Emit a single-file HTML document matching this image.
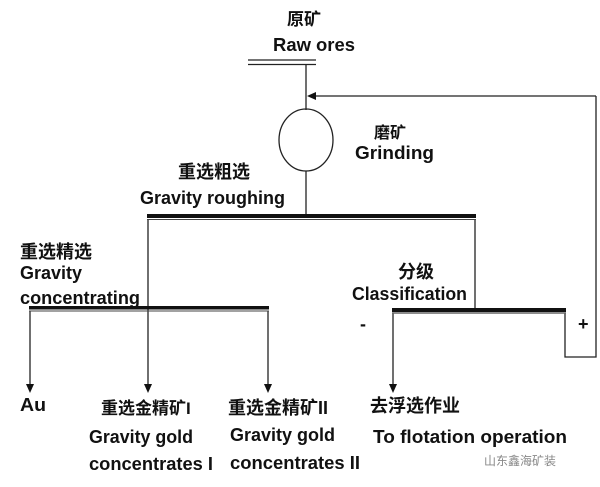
<!DOCTYPE html>
<html><head><meta charset="utf-8"><style>
html,body{margin:0;padding:0;background:#fff;}
svg{display:block}
text{font-family:"Liberation Sans","Noto Sans CJK SC",sans-serif;fill:#111;font-size:18px;font-weight:bold}
.c{font-size:17px;font-weight:bold}
</style></head><body>
<svg width="600" height="487" viewBox="0 0 600 487" xmlns="http://www.w3.org/2000/svg">
<rect width="600" height="487" fill="#fff"/>
<g stroke="#222" stroke-width="1.3" fill="none">
<line x1="248" y1="60" x2="316" y2="60"/>
<line x1="248" y1="64.5" x2="316" y2="64.5"/>
<line x1="306" y1="64" x2="306" y2="110"/>
<polyline points="596,96 596,357 565,357 565,313"/>
<line x1="596" y1="96" x2="314" y2="96"/>
<ellipse cx="306" cy="140" rx="27" ry="31"/>
<line x1="306" y1="171" x2="306" y2="215"/>
<line x1="148" y1="220" x2="148" y2="386"/>
<line x1="475" y1="220" x2="475" y2="309"/>
<line x1="30" y1="311" x2="30" y2="386"/>
<line x1="268" y1="311" x2="268" y2="386"/>
<line x1="393" y1="313" x2="393" y2="386"/>
</g>
<rect x="147" y="214" width="329" height="4" fill="#111"/>
<line x1="147" y1="219.5" x2="476" y2="219.5" stroke="#444" stroke-width="1"/>
<rect x="29" y="306" width="240" height="3.5" fill="#111"/>
<line x1="29" y1="311" x2="269" y2="311" stroke="#444" stroke-width="1"/>
<rect x="392" y="308" width="174" height="4" fill="#111"/>
<line x1="392" y1="313" x2="566" y2="313" stroke="#666" stroke-width="1.5"/>
<g fill="#111">
<polygon points="307,96 316,92 316,100"/>
<polygon points="26,384 34,384 30,393"/>
<polygon points="144,384 152,384 148,393"/>
<polygon points="264,384 272,384 268,393"/>
<polygon points="389,384 397,384 393,393"/>
</g>
<g lengthAdjust="spacingAndGlyphs">
<text class="c" x="287" y="25">原矿</text>
<text x="273" y="51" textLength="82" lengthAdjust="spacingAndGlyphs">Raw ores</text>
<text class="c" x="374" y="138" style="font-size:16px">磨矿</text>
<text x="355" y="159" textLength="79" lengthAdjust="spacingAndGlyphs">Grinding</text>
<text class="c" x="178" y="178" style="font-size:18px">重选粗选</text>
<text x="140" y="204" textLength="145" lengthAdjust="spacingAndGlyphs">Gravity roughing</text>
<text class="c" x="20" y="258" style="font-size:18px">重选精选</text>
<text x="20" y="279" textLength="62" lengthAdjust="spacingAndGlyphs">Gravity</text>
<text x="20" y="304" textLength="120" lengthAdjust="spacingAndGlyphs">concentrating</text>
<text class="c" x="398" y="278" style="font-size:18px">分级</text>
<text x="352" y="300" textLength="115" lengthAdjust="spacingAndGlyphs">Classification</text>
<text x="360" y="330">-</text>
<text x="578" y="330">+</text>
<text x="20" y="411" textLength="26" lengthAdjust="spacingAndGlyphs">Au</text>
<text class="c" x="101" y="414">重选金精矿I</text>
<text class="c" x="228" y="414" style="font-size:18px">重选金精矿II</text>
<text x="89" y="443" textLength="104" lengthAdjust="spacingAndGlyphs">Gravity gold</text>
<text x="89" y="470" textLength="124" lengthAdjust="spacingAndGlyphs">concentrates I</text>
<text x="230" y="441" textLength="105" lengthAdjust="spacingAndGlyphs">Gravity gold</text>
<text x="230" y="469" textLength="130" lengthAdjust="spacingAndGlyphs">concentrates II</text>
<text class="c" x="370" y="412" style="font-size:18px">去浮选作业</text>
<text x="373" y="443" textLength="194" lengthAdjust="spacingAndGlyphs">To flotation operation</text>
<text x="484" y="465" style="fill:#888;font-weight:normal;font-size:12px">山东鑫海矿装</text>
</g>
</svg>
</body></html>
